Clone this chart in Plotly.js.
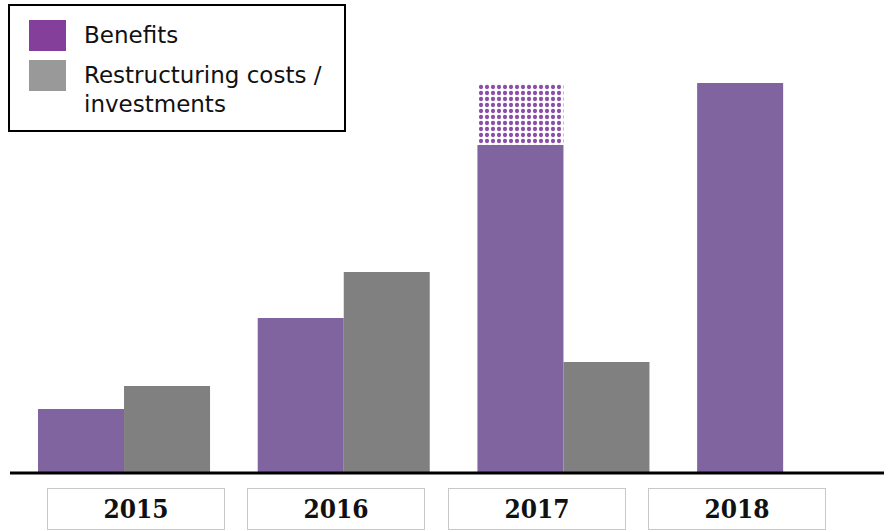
<!DOCTYPE html>
<html>
<head>
<meta charset="utf-8">
<script src="https://cdn.plot.ly/plotly-3.0.1.min.js"></script>
<style>html,body{margin:0;padding:0;background:#fff;}#chart{width:884px;height:530px;}</style>
</head>
<body>
<div id="chart"></div>
<script>
// Data (arbitrary units)
var years = ['2015', '2016', '2017', '2018'];
var benefits = [64, 155, 328, 390];
var costs = [87, 201, 111, null];
var upsideYears = ['2017'];
var upsideBase = [328];
var upside = [62];

var W = 884, H = 530, L = 10, R = 0, T = 0, B = 57;
var plotW = W - L - R, plotH = H - T - B;
function px(x) { return (x - L) / plotW; }
function py(y) { return (H - B - y) / plotH; }

var idx = years.map(function (_, i) { return i; });
var upIdx = upsideYears.map(function (y) { return years.indexOf(y); });

var traces = [
  { type: 'bar', x: idx, y: benefits, offsetgroup: 'b', name: 'Benefits',
    marker: { color: '#7F64A0', line: { width: 0 } }, showlegend: false, hoverinfo: 'none' },
  { type: 'bar', x: idx, y: costs, offsetgroup: 'c', name: 'Restructuring costs / investments',
    marker: { color: '#808080', line: { width: 0 } }, showlegend: false, hoverinfo: 'none' },
  { type: 'bar', x: upIdx, y: upside, base: upsideBase, offsetgroup: 'b', name: 'Upside',
    marker: { color: '#8A4FA8', line: { width: 0 },
      pattern: { shape: '.', fillmode: 'replace', bgcolor: '#ffffff', size: 6, solidity: 0.4 } },
    showlegend: false, hoverinfo: 'none' }
];

var annotations = years.map(function (y, i) {
  return { xref: 'x2', yref: 'paper', x: i, y: py(509), text: '<b>' + y + '</b>',
    showarrow: false, xanchor: 'center', yanchor: 'middle',
    font: { family: 'DejaVu Serif Condensed, DejaVu Serif, serif', size: 26, color: '#111' },
    width: 172, height: 36, bordercolor: '#c8c8c8', borderwidth: 1, borderpad: 2, bgcolor: '#ffffff' };
});

var legendFont = { family: 'DejaVu Sans, sans-serif', size: 23, color: '#111' };
annotations.push(
  { xref: 'paper', yref: 'paper', x: px(82), y: py(35), text: 'Benefits', showarrow: false,
    xanchor: 'left', yanchor: 'middle', font: legendFont },
  { xref: 'paper', yref: 'paper', x: px(82), y: py(75), text: 'Restructuring costs /', showarrow: false,
    xanchor: 'left', yanchor: 'middle', font: legendFont },
  { xref: 'paper', yref: 'paper', x: px(82), y: py(104), text: 'investments', showarrow: false,
    xanchor: 'left', yanchor: 'middle', font: legendFont }
);

var shapes = [
  { type: 'rect', xref: 'paper', yref: 'paper', x0: px(9), x1: px(345), y0: py(5), y1: py(131),
    line: { color: '#000', width: 2 }, fillcolor: 'rgba(255,255,255,0)' },
  { type: 'rect', xref: 'paper', yref: 'paper', x0: px(29), x1: px(66), y0: py(20), y1: py(51),
    line: { width: 0 }, fillcolor: '#833F99' },
  { type: 'rect', xref: 'paper', yref: 'paper', x0: px(29), x1: px(66), y0: py(60), y1: py(91),
    line: { width: 0 }, fillcolor: '#999999' },
  { type: 'line', xref: 'paper', yref: 'paper', x0: px(10), x1: px(884), y0: 0, y1: 0,
    line: { color: '#000', width: 3 } }
];

var layout = {
  width: W, height: H,
  margin: { l: L, r: R, t: T, b: B, pad: 0 },
  paper_bgcolor: '#fff', plot_bgcolor: '#fff',
  barmode: 'group', bargap: 0.217, bargroupgap: 0,
  showlegend: false,
  xaxis: { type: 'linear', range: [-0.519, 3.459], showgrid: false, zeroline: false,
    showticklabels: false, ticks: '', showline: false, fixedrange: true },
  xaxis2: { type: 'linear', overlaying: 'x', range: [-0.628, 3.733], visible: false },
  yaxis: { range: [0, 473], showgrid: false, zeroline: false, showticklabels: false,
    ticks: '', showline: false },
  annotations: annotations,
  shapes: shapes
};

Plotly.newPlot('chart', traces, layout, { staticPlot: true, displayModeBar: false });
</script>
</body>
</html>
